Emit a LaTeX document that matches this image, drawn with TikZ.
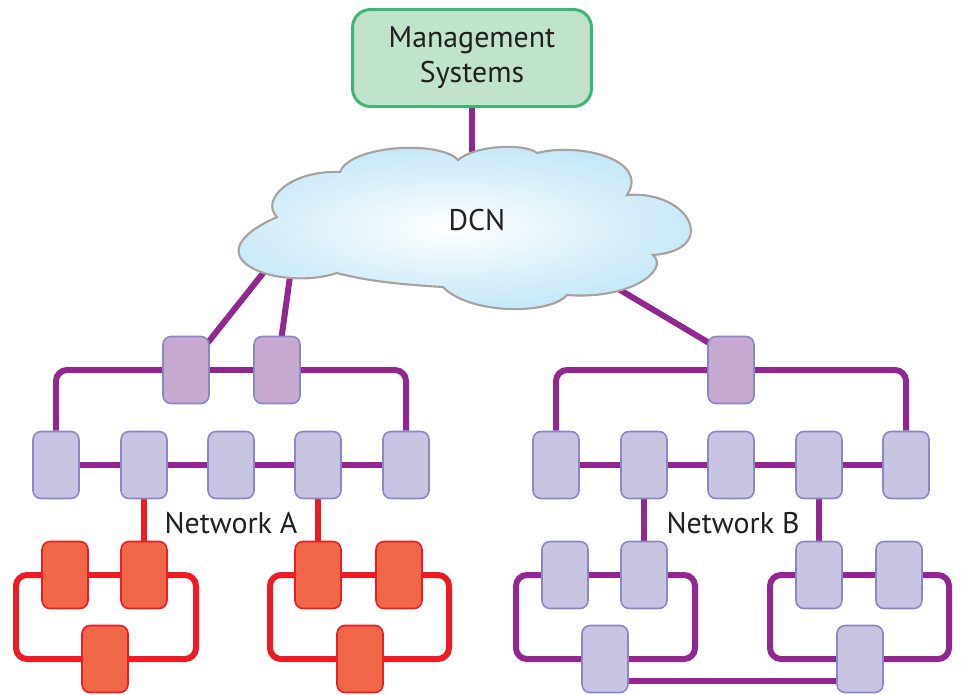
\documentclass[tikz,border=0pt]{standalone}
\usepackage{fontspec}
\setmainfont{PT Sans}
\usepackage{tikz}
\usetikzlibrary{calc}
\usetikzlibrary{positioning}

\definecolor{linkpurple}{HTML}{92278F}
\definecolor{redline}{HTML}{ED1C24}
\definecolor{redfill}{HTML}{F06748}
\definecolor{boxfill}{HTML}{C7C5E1}
\definecolor{boxedge}{HTML}{8B86C4}
\definecolor{gwfill}{HTML}{C5A9CF}
\definecolor{msfill}{HTML}{C1E3CB}
\definecolor{msedge}{HTML}{3DB874}
\definecolor{cloudfill}{HTML}{C2E6F6}
\definecolor{cloudedge}{HTML}{A8A19D}
\definecolor{txt}{HTML}{231F20}

\pgfdeclarelayer{background}
\pgfsetlayers{background,main}

\tikzset{
  nebox/.style={rectangle, rounded corners=0.16cm, minimum width=0.92cm, minimum height=1.34cm,
    inner sep=0pt, draw=boxedge, fill=boxfill, line width=0.9pt},
  gwbox/.style={nebox, fill=gwfill},
  redbox/.style={nebox, draw=redline, fill=redfill},
  link/.style={line width=0.12cm, draw=linkpurple, rounded corners=0.22cm},
  redlink/.style={link, draw=redline},
  label/.style={text=txt, font=\fontsize{17}{20}\selectfont, align=center}
}

\begin{document}
\begin{tikzpicture}[x=0.02cm, y=-0.02cm]
    \useasboundingbox (0,0) rectangle (961,694);

    % management and DCN
    \node[label, rectangle, rounded corners=0.36cm, minimum width=4.78cm, minimum height=1.94cm,
      draw=msedge, fill=msfill, line width=1.7pt] (ms) at (472,58) {Management\\Systems};
    \draw[draw=cloudedge, line width=1.2pt, inner color=white, outer color=cloudfill]
      (340,172)
      .. controls (350,145) and (440,140) .. (458,160)
      .. controls (475,145) and (525,143) .. (537,153)
      .. controls (580,142) and (650,160) .. (627,195)
      .. controls (690,190) and (720,250) .. (653,255)
      .. controls (670,270) and (630,300) .. (567,295)
      .. controls (550,315) and (470,315) .. (443,287)
      .. controls (410,285) and (370,282) .. (337,273)
      .. controls (280,292) and (185,258) .. (277,217)
      .. controls (260,200) and (290,170) .. (340,172) -- cycle;
    \node[label] (dcn) at (477,220) {DCN};
    \coordinate (cms) at (472,180);
    \coordinate (ca1) at (272,262);
    \coordinate (ca2) at (292,262);
    \coordinate (cb) at (600,278);

    % network A
    \node[gwbox] (ta1) at (186,370) {};
    \node[gwbox] (ta2) at (277,370) {};
    \foreach \i/\x in {1/56, 2/144, 3/231, 4/318, 5/406}
      \node[nebox] (a\i) at (\x,465) {};
    \node[redbox] (ra1) at (65,575) {};
    \node[redbox] (ra2) at (144,575) {};
    \node[redbox] (ra3) at (105,659) {};
    \node[redbox] (rb1) at (318,575) {};
    \node[redbox] (rb2) at (399,575) {};
    \node[redbox] (rb3) at (360,659) {};
    \coordinate (lra) at (16,617);
    \coordinate (rra) at (196,617);
    \coordinate (lrb) at (270,617);
    \coordinate (rrb) at (449,617);
    \node[label] (neta) at (231,523) {Network A};

    % network B
    \node[gwbox] (tb) at (731,370) {};
    \foreach \i/\x in {1/556, 2/644, 3/731, 4/819, 5/906}
      \node[nebox] (b\i) at (\x,465) {};
    \node[nebox] (bl1) at (565,575) {};
    \node[nebox] (bl2) at (644,575) {};
    \node[nebox] (bl3) at (605,659) {};
    \node[nebox] (br1) at (819,575) {};
    \node[nebox] (br2) at (899,575) {};
    \node[nebox] (br3) at (860,659) {};
    \coordinate (lbl) at (516,617);
    \coordinate (rbl) at (695,617);
    \coordinate (lbr) at (770,617);
    \coordinate (rbr) at (949,617);
    \node[label] (netb) at (733,523) {Network B};

    \begin{pgfonlayer}{background}
      \draw[link] (ms) -- (cms);
      \draw[link] (ca1) -- (ta1.center);
      \draw[link] (ca2) -- (ta2.center);
      \draw[link] (cb) -- ([yshift=0.28cm]tb.center);

      \draw[link] (ta1) -- (ta2);
      \draw[link] (ta1.west) -| (a1.north);
      \draw[link] (ta2.east) -| (a5.north);
      \foreach \i/\j in {1/2, 2/3, 3/4, 4/5}
        \draw[link] (a\i) -- (a\j);
      \draw[redlink] (a2) -- (ra2);
      \draw[redlink] (a4) -- (rb1);
      \draw[redlink] (ra1) -- (ra2);
      \draw[redlink] (ra1.west) -| (lra) |- (ra3.west);
      \draw[redlink] (ra2.east) -| (rra) |- (ra3.east);
      \draw[redlink] (rb1) -- (rb2);
      \draw[redlink] (rb1.west) -| (lrb) |- (rb3.west);
      \draw[redlink] (rb2.east) -| (rrb) |- (rb3.east);

      \draw[link] (tb.west) -| (b1.north);
      \draw[link] (tb.east) -| (b5.north);
      \foreach \i/\j in {1/2, 2/3, 3/4, 4/5}
        \draw[link] (b\i) -- (b\j);
      \draw[link] (b2) -- (bl2);
      \draw[link] (b4) -- (br1);
      \draw[link] (bl1) -- (bl2);
      \draw[link] (bl1.west) -| (lbl) |- (bl3.west);
      \draw[link] (bl2.east) -| (rbl) |- (bl3.east);
      \draw[link] (br1) -- (br2);
      \draw[link] (br1.west) -| (lbr) |- (br3.west);
      \draw[link] (br2.east) -| (rbr) |- (br3.east);
      \draw[link] ([yshift=-0.44cm]bl3.center) -- ([yshift=-0.44cm]br3.center);
    \end{pgfonlayer}
\end{tikzpicture}
\end{document}
